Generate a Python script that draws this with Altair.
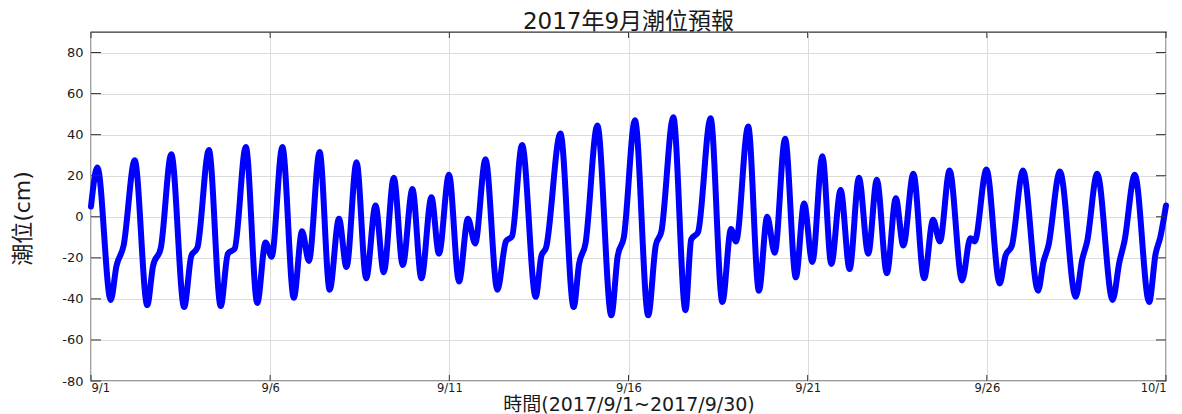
import altair as alt
import pandas as pd

# Time in days since 2017-09-01 00:00, tide level in cm (extrema and shoulders)
days = [
    0.00, 0.18, 0.55, 0.71, 0.91, 1.22, 1.57, 1.73, 1.95, 2.24,
    2.60, 2.80, 2.97, 3.29, 3.62, 3.82, 4.01, 4.32, 4.64, 4.87,
    5.04, 5.34, 5.66, 5.89, 6.08, 6.38, 6.66, 6.92, 7.13, 7.41,
    7.68, 7.94, 8.17, 8.45, 8.70, 8.97, 9.22, 9.50, 9.71, 9.99,
    10.27, 10.52, 10.72, 11.01, 11.34, 11.58, 11.75, 12.03, 12.41, 12.57,
    12.70, 13.10, 13.47, 13.62, 13.80, 14.13, 14.52, 14.70, 14.87, 15.18,
    15.55, 15.76, 15.92, 16.25, 16.59, 16.75, 16.94, 17.29, 17.62, 17.86,
    18.00, 18.34, 18.64, 18.87, 19.08, 19.37, 19.67, 19.90, 20.13, 20.41,
    20.66, 20.92, 21.17, 21.43, 21.69, 21.93, 22.21, 22.46, 22.67, 22.95,
    23.25, 23.50, 23.69, 23.96, 24.31, 24.54, 24.66, 24.99, 25.36, 25.52,
    25.70, 26.01, 26.43, 26.58, 26.72, 27.04, 27.48, 27.66, 27.80, 28.08,
    28.51, 28.70, 28.84, 29.13, 29.53, 29.71, 29.84, 30.00,
]
level = [
    5, 24, -40.5, -24, -14, 27.5, -43, -24, -15, 30.5,
    -44, -19, -15, 32.5, -43.5, -18, -15.5, 34, -42, -12.5,
    -19.5, 34, -39.5, -7, -21.5, 31.5, -35.5, -1, -24.5, 26.5,
    -30, 5.5, -27, 19, -23.5, 13.5, -30, 9.5, -18, 20.5,
    -31.5, -1, -13, 28, -35.5, -12, -9.5, 35, -39, -19,
    -15, 40.5, -44, -23, -13, 44.5, -48, -19, -10, 47,
    -48, -14, -7, 48.5, -45.5, -11, -7.5, 48, -41.5, -6,
    -12, 44, -36, 0, -17.5, 38, -29.5, 6.5, -22, 29.5,
    -23, 13, -25.5, 19, -18, 18, -27.5, 9, -14, 21,
    -30, -1.5, -12, 22.5, -31, -10.5, -12, 23, -32.5, -19,
    -14, 22.5, -36, -22, -14, 22, -39, -21, -12, 21,
    -40.5, -22, -12, 20.5, -41.5, -18, -10, 5.5,
]

x_ticks = [0, 5, 10, 15, 20, 25, 30]
x_labels = ["9/1", "9/6", "9/11", "9/16", "9/21", "9/26", "10/1"]
y_ticks = [-80, -60, -40, -20, 0, 20, 40, 60, 80]

title_text = "2017年9月潮位預報"
x_title = "時間(2017/9/1~2017/9/30)"
y_title = "潮位(cm)"

W, H = 1075, 349
FONT = "'DejaVu Sans', 'Noto Sans CJK TC', sans-serif"
TXT = "#1a1a1a"

df = pd.DataFrame({"day": days, "level": level})
xdf = pd.DataFrame({"v": x_ticks})
ydf = pd.DataFrame({"v": y_ticks})

xscale = alt.Scale(domain=[0, 30], nice=False, zero=False)
yscale = alt.Scale(domain=[-80, 90], nice=False, zero=False)

label_expr = (
    "[" + ",".join(f"'{s}'" for s in x_labels) + "][indexof(["
    + ",".join(str(t) for t in x_ticks) + "], datum.value)]"
)

x_axis = alt.Axis(
    values=x_ticks, labelExpr=label_expr, title=x_title,
    labelFontSize=11.5, labelPadding=1, titleFontSize=19,
    titleY=29.5, titleBaseline="alphabetic",
)
y_axis = alt.Axis(
    values=y_ticks, labelExpr="'' + datum.value", title=y_title,
    labelFontSize=13, labelPadding=8, titleFontSize=22,
    titleAngle=270, titleX=-69, titleY=186,
    titleAlign="center", titleBaseline="middle",
)

line = alt.Chart(df).mark_line(
    interpolate="monotone", color="#0000ff", strokeWidth=6,
    strokeCap="round", strokeJoin="round",
).encode(
    x=alt.X("day:Q", scale=xscale, axis=x_axis),
    y=alt.Y("level:Q", scale=yscale, axis=y_axis),
)

tick_style = dict(color="#333333", strokeWidth=1)
ytl = alt.Chart(ydf).mark_rule(**tick_style).encode(
    y=alt.Y("v:Q", scale=yscale, axis=y_axis), x=alt.value(0), x2=alt.value(10))
ytr = alt.Chart(ydf).mark_rule(**tick_style).encode(
    y=alt.Y("v:Q", scale=yscale, axis=y_axis), x=alt.value(W - 10), x2=alt.value(W))
xtb = alt.Chart(xdf).mark_rule(**tick_style).encode(
    x=alt.X("v:Q", scale=xscale, axis=x_axis), y=alt.value(H - 6), y2=alt.value(H))
xtt = alt.Chart(xdf).mark_rule(**tick_style).encode(
    x=alt.X("v:Q", scale=xscale, axis=x_axis), y=alt.value(0), y2=alt.value(6))

chart = alt.layer(line, xtb, xtt, ytl, ytr).properties(
    width=W, height=H,
    autosize=alt.AutoSizeParams(type="none"),
    padding={"left": 83, "top": 24, "right": 8, "bottom": 35},
    title=alt.TitleParams(
        title_text, fontSize=23, font=FONT, fontWeight="normal",
        color=TXT, anchor="middle", offset=-2,
    ),
).configure_view(
    stroke="#333333", strokeWidth=1.3,
).configure_axis(
    domain=False, ticks=False, grid=True, gridColor="#dcdcdc", gridWidth=1,
    labelFont=FONT, labelColor=TXT, titleFont=FONT, titleColor=TXT,
    titleFontWeight="normal",
)

chart.save("out.html", embed_options={"renderer": "svg", "actions": False})
